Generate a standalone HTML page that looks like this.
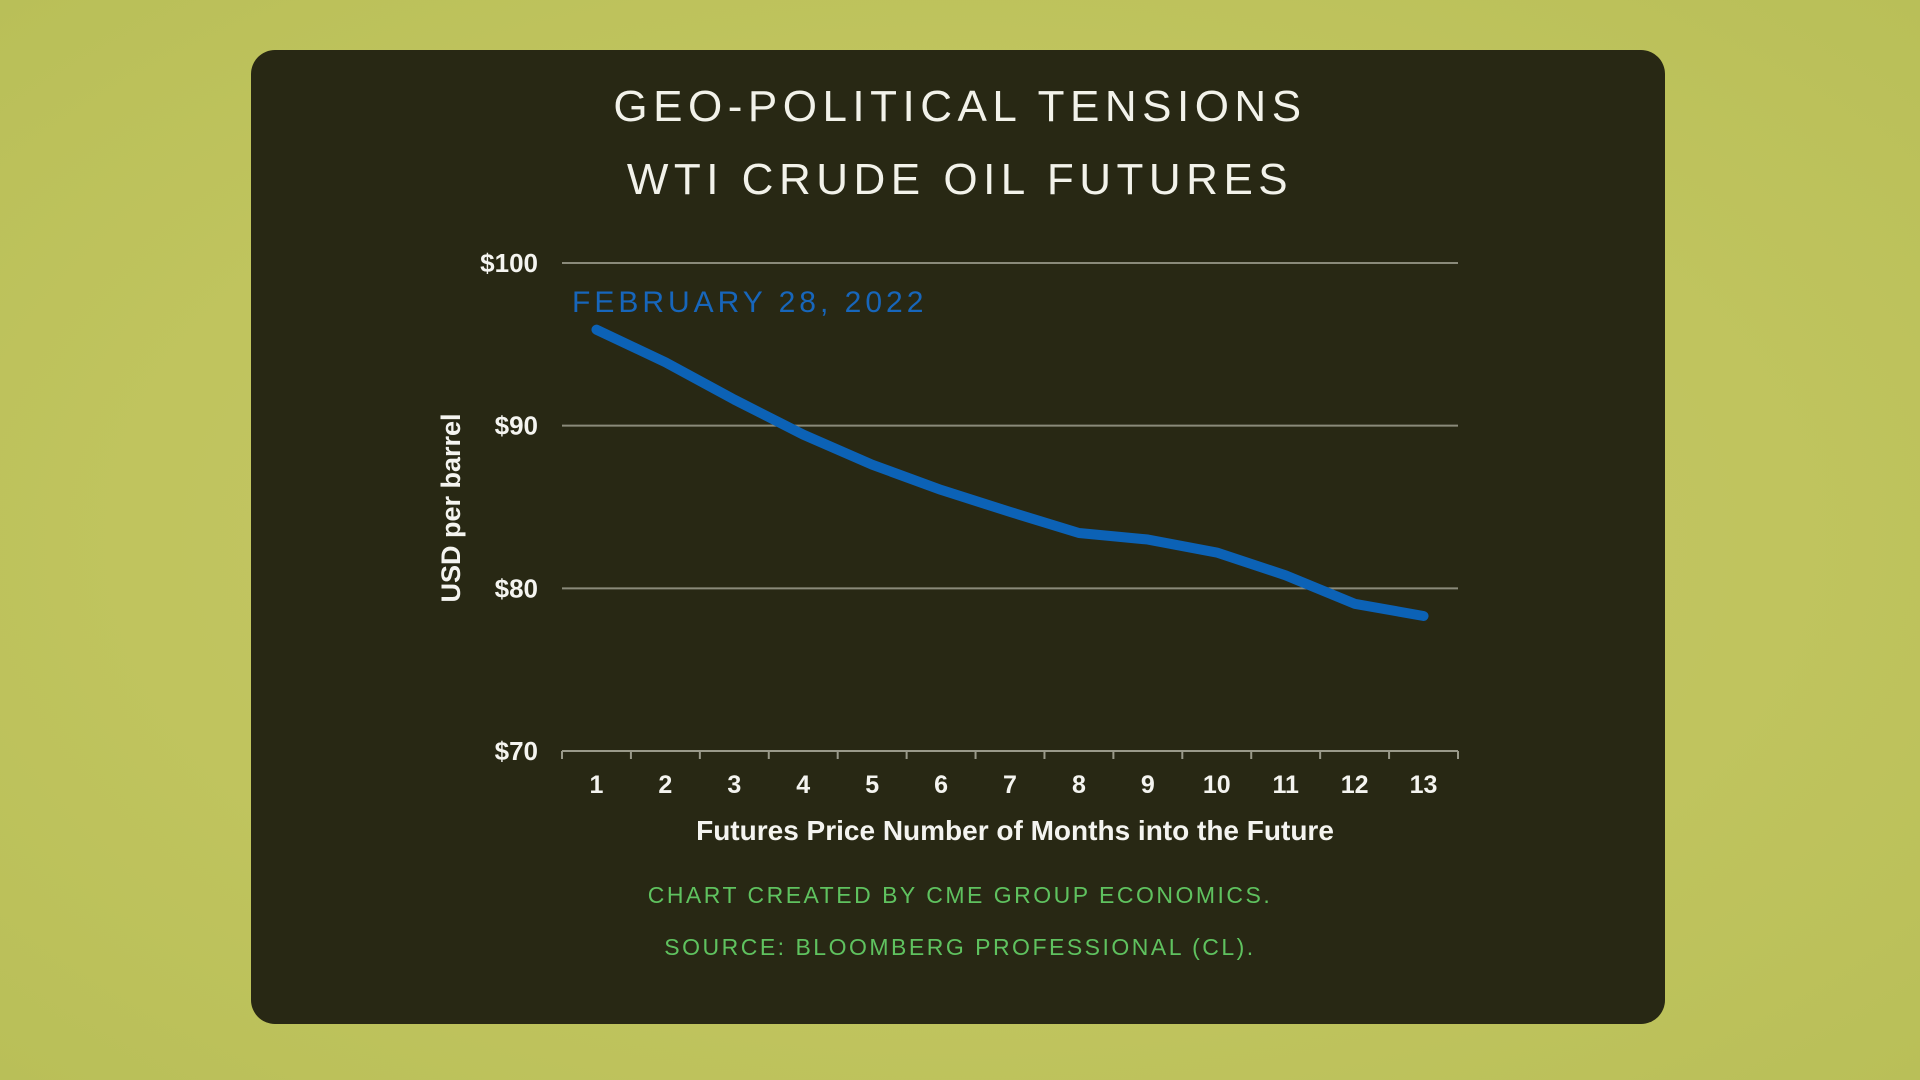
<!DOCTYPE html>
<html><head><meta charset="utf-8">
<style>
html,body{margin:0;padding:0;width:1920px;height:1080px;overflow:hidden;}
body{background:radial-gradient(ellipse at 50% 50%,#c6c86a 0%,#c0c45e 60%,#b9bf58 100%);font-family:"Liberation Sans",sans-serif;}
#panel{position:absolute;left:251px;top:50px;width:1414px;height:974px;background:#282814;border-radius:24px;}
.t{position:absolute;left:0;width:1920px;text-align:center;color:#f2f2ea;font-size:44px;letter-spacing:5.5px;}
.f{position:absolute;left:0;width:1920px;text-align:center;color:#5fc25f;font-size:23px;letter-spacing:2.5px;}
</style></head><body>
<div id="panel"></div>
<div class="t" style="top:82px">GEO-POLITICAL TENSIONS</div>
<div class="t" style="top:155px">WTI CRUDE OIL FUTURES</div>
<div class="f" style="top:882px">CHART CREATED BY CME GROUP ECONOMICS.</div>
<div class="f" style="top:934px">SOURCE: BLOOMBERG PROFESSIONAL (CL).</div>
<svg id="chart" width="1920" height="1080" style="position:absolute;left:0;top:0"></svg>
<script>
const categories=[1,2,3,4,5,6,7,8,9,10,11,12,13];
const prices=[95.9,93.9,91.6,89.45,87.6,86.05,84.7,83.4,83.0,82.2,80.8,79.05,78.3];
const yTicks=[70,80,90,100];
const yTickLabels=["$70","$80","$90","$100"];
const X0=562,X1=1458,Y0=751,Y1=263,YMIN=70,YMAX=100;
const band=(X1-X0)/categories.length;
const xs=i=>X0+band*(i+0.5);
const ys=v=>Y0-(v-YMIN)/(YMAX-YMIN)*(Y0-Y1);
const svg=document.getElementById('chart');
const NS='http://www.w3.org/2000/svg';
function mk(tag,attrs){const e=document.createElementNS(NS,tag);for(const k in attrs)e.setAttribute(k,attrs[k]);svg.appendChild(e);return e;}
yTicks.forEach((v,i)=>{
  if(v>YMIN){const g=mk('line',{x1:X0,x2:X1,y1:ys(v),y2:ys(v),stroke:'#8a8a7a','stroke-width':2});
  
  }
  const t=mk('text',{x:538,y:ys(v)+9,'text-anchor':'end',fill:'#f4f4f0','font-size':26,'font-weight':'bold','font-family':'Liberation Sans, sans-serif'});
  t.textContent=yTickLabels[i];
  
  
});
const ax=mk('line',{x1:X0,x2:X1,y1:Y0,y2:Y0,stroke:'#9a9a8a','stroke-width':2});


for(let i=0;i<=categories.length;i++){
  const tk=mk('line',{x1:X0+band*i,x2:X0+band*i,y1:Y0,y2:Y0+8,stroke:'#9a9a8a','stroke-width':2});
  
  
}
categories.forEach((c,i)=>{
  const t=mk('text',{x:xs(i),y:793,'text-anchor':'middle',fill:'#f4f4f0','font-size':25,'font-weight':'bold','font-family':'Liberation Sans, sans-serif'});
  t.textContent=c;
  
  
});
const xt=mk('text',{x:1015,y:840,'text-anchor':'middle',fill:'#f4f4f0','font-size':28,'font-weight':'bold','font-family':'Liberation Sans, sans-serif'});
xt.textContent='Futures Price Number of Months into the Future';


const yt=mk('text',{x:0,y:0,'text-anchor':'middle',fill:'#f4f4f0','font-size':27,'font-weight':'bold','font-family':'Liberation Sans, sans-serif',transform:'translate(460,508) rotate(-90)'});
yt.textContent='USD per barrel';


const d=prices.map((v,i)=>(i?'L':'M')+xs(i)+' '+ys(v)).join(' ');
const ln=mk('path',{d:d,fill:'none',stroke:'#0c62b6','stroke-width':10,'stroke-linejoin':'round','stroke-linecap':'round'});


const lb=mk('text',{x:572,y:312,fill:'#1766bb','font-size':30,'letter-spacing':4,'font-family':'Liberation Sans, sans-serif'});
lb.textContent='FEBRUARY 28, 2022';


</script>
</body></html>
